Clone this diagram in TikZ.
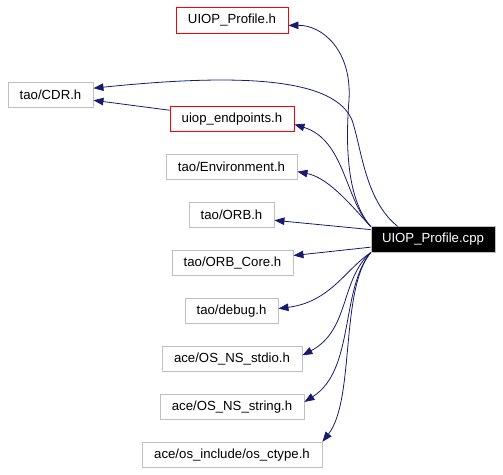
\documentclass[tikz,border=0pt]{standalone}
\usepackage{fontspec}
\setmainfont{Liberation Sans}
\usetikzlibrary{arrows.meta}
\definecolor{edgeblue}{HTML}{191970}
\definecolor{boxgray}{HTML}{BFBFBF}

\begin{document}
\begin{tikzpicture}[
    x=1pt, y=-1pt,
    hdr/.style={draw=boxgray, line width=0.9pt, minimum height=25.5pt, inner sep=0pt, align=center, font=\fontsize{13.2}{15}\selectfont},
    local/.style={hdr, draw=red},
    main/.style={hdr, fill=black, text=white},
    dep/.style={-{Triangle[length=10pt,width=7.5pt]}, draw=edgeblue, line width=0.8pt}
]
\useasboundingbox (0,0) rectangle (503,474);

\node[local, minimum width=112pt] (prof)  at (232, 20.5)  {UIOP\_Profile.h};
\node[hdr,   minimum width=85pt]  (cdr)   at (50.5, 95)   {tao/CDR.h};
\node[local, minimum width=124pt] (endp)  at (232, 119)   {uiop\_endpoints.h};
\node[hdr,   minimum width=131pt] (env)   at (231.5, 167) {tao/Environment.h};
\node[hdr,   minimum width=85pt]  (orb)   at (231.5, 215) {tao/ORB.h};
\node[hdr,   minimum width=121pt] (core)  at (232.5, 263) {tao/ORB\_Core.h};
\node[hdr,   minimum width=93pt]  (dbg)   at (231.5, 311) {tao/debug.h};
\node[hdr,   minimum width=140pt] (stdio) at (232, 359)   {ace/OS\_NS\_stdio.h};
\node[hdr,   minimum width=144pt] (str)   at (232, 407)   {ace/OS\_NS\_string.h};
\node[hdr,   minimum width=180pt] (ctype) at (232, 455)   {ace/os\_include/os\_ctype.h};

\node[main,  minimum width=124pt] (cpp)   at (433, 239.5) {UIOP\_Profile.cpp};

\draw[dep] (cpp.north west) .. controls (348,200) and (345,150) .. (349,100)
           .. controls (352,50) and (322,25) .. (prof.-5);
\draw[dep] ([xshift=27pt]cpp.north west) .. controls (365,200) and (362,150) .. (352,120)
           .. controls (335,80) and (250,72) .. (cdr.9);
\draw[dep] (endp.172) -- (cdr.-7);
\draw[dep] (cpp.north west) .. controls (345,200) and (345,140) .. (endp.-5);
\draw[dep] (cpp.north west) .. controls (355,210) and (330,178) .. (env.-4);
\draw[dep] (cpp.171)        -- (orb.-7);
\draw[dep] (cpp.187)        -- (core.7);
\draw[dep] (cpp.south west) .. controls (345,270) and (330,302) .. (dbg.3);
\draw[dep] (cpp.south west) .. controls (340,280) and (350,330) .. (stdio.3);
\draw[dep] (cpp.south west) .. controls (340,290) and (355,370) .. (str.4);
\draw[dep] (cpp.south west) .. controls (340,290) and (355,400) .. (ctype.north east);
\end{tikzpicture}
\end{document}
